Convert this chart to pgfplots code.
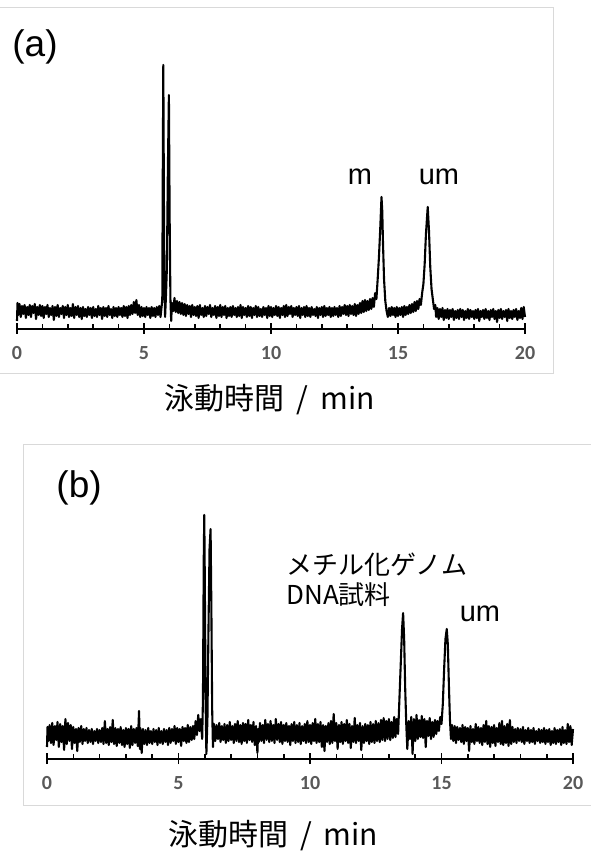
\documentclass[border=0pt]{standalone}
\usepackage{fontspec}
\setmainfont{Liberation Sans}
\newfontfamily\jp{Noto Sans CJK JP}
\newfontfamily\tickfont{Carlito}
\usepackage{pgfplots}
\pgfplotsset{compat=1.18}
\definecolor{tickgray}{HTML}{595959}
\definecolor{framegray}{HTML}{D9D9D9}

\pgfplotsset{
  chrom/.style={
    scale only axis, height=300pt,
    xmin=0, xmax=20, ymin=0, ymax=300,
    axis x line*=bottom, axis y line=none, clip=false,
    xtick={0,5,...,20}, minor x tick num=4,
    tick align=inside, major tick length=6pt, minor tick length=5pt,
    every tick/.style={black, line width=1.6pt},
    axis line style={black, line width=2pt},
    extra x ticks={0,5,...,20}, extra x tick labels={},
    extra x tick style={tick align=outside, major tick length=5pt},
    /pgf/number format/assume math mode=true,
    xticklabel style={font=\tickfont\bfseries\fontsize{20}{20}\selectfont, text=tickgray, yshift=-14pt},
    xlabel style={font=\jp\fontsize{30}{30}\selectfont, anchor=center},
  },
  trace/.style={black, line width=2.1pt, line join=round},
}
\tikzset{
  lbl/.style={font=\fontsize{29}{29}\selectfont, anchor=base},
  tag/.style={font=\fontsize{37}{37}\selectfont, anchor=base},
}

\begin{document}
\begin{tikzpicture}
\useasboundingbox (0,0) rectangle (590pt,853pt);
\draw[framegray, line width=1pt] (-5pt,479pt) rectangle (553pt,845pt);
\draw[framegray, line width=1pt] (23pt,47pt) rectangle (600pt,408pt);

% (a)
\begin{axis}[chrom, width=508pt, at={(17pt,524pt)}, anchor=south west,
  xlabel={泳動時間\hspace{0.4em}/\hspace{0.4em}min}, xlabel style={at={(axis description cs:0.498,0)}, yshift=-71pt}]
\addplot[trace] coordinates {
(0,8)(0.02,26)(0.05,14)(0.1,25)(0.15,12)(0.2,23)(0.25,15)(0.3,24)(0.35,11)(0.4,22)(0.45,14)
(0.5,24)(0.55,12)(0.6,23)(0.65,16)(0.7,25)(0.75,10)(0.8,22)(0.85,14)(0.9,24)(0.95,13)
(1.0,23)(1.05,11)(1.1,22)(1.15,15)(1.2,24)(1.25,12)(1.3,21)(1.35,14)(1.4,23)(1.45,9)
(1.5,22)(1.55,13)(1.6,24)(1.65,12)(1.7,21)(1.75,15)(1.8,23)(1.85,11)(1.9,22)(1.95,14)
(2.0,24)(2.05,12)(2.1,21)(2.15,13)(2.2,25)(2.25,11)(2.3,22)(2.35,14)(2.4,23)(2.45,12)
(2.5,21)(2.55,10)(2.6,22)(2.65,13)(2.7,20)(2.75,12)(2.8,22)(2.85,14)(2.9,21)(2.95,11)
(3.0,22)(3.05,13)(3.1,20)(3.15,12)(3.2,23)(3.25,14)(3.3,21)(3.35,10)(3.4,22)(3.45,13)
(3.5,21)(3.55,12)(3.6,23)(3.65,14)(3.7,20)(3.75,11)(3.8,22)(3.85,13)(3.9,21)(3.95,12)
(4.0,22)(4.05,14)(4.1,21)(4.15,12)(4.2,23)(4.25,13)(4.3,22)(4.35,11)(4.4,23)(4.45,14)
(4.5,24)(4.55,15)(4.6,27)(4.65,16)(4.7,29)(4.75,14)(4.8,24)(4.85,12)(4.9,22)(4.95,13)
(5.0,21)(5.05,12)(5.1,22)(5.15,14)(5.2,21)(5.25,11)(5.3,22)(5.35,13)(5.4,21)(5.45,12)
(5.5,22)(5.55,14)(5.6,23)(5.65,12)(5.7,24)(5.72,30)(5.74,160)(5.76,264)(5.78,150)(5.8,50)
(5.83,12)(5.86,30)(5.9,60)(5.94,160)(5.98,234)(6.01,110)(6.04,30)(6.07,8)(6.1,26)
(6.15,18)(6.2,31)(6.25,17)(6.3,28)(6.35,16)(6.4,27)(6.45,15)
(6.5,26)(6.55,14)(6.6,25)(6.65,13)(6.7,24)(6.75,15)(6.8,23)(6.85,12)(6.9,24)(6.95,14)
(7.0,22)(7.05,13)(7.1,23)(7.15,11)(7.2,24)(7.25,14)(7.3,21)(7.35,12)(7.4,23)(7.45,13)
(7.5,22)(7.55,15)(7.6,24)(7.65,12)(7.7,21)(7.75,14)(7.8,23)(7.85,11)(7.9,22)(7.95,13)
(8.0,24)(8.05,12)(8.1,22)(8.15,14)(8.2,23)(8.25,11)(8.3,21)(8.35,13)(8.4,22)(8.45,12)
(8.5,23)(8.55,14)(8.6,21)(8.65,12)(8.7,22)(8.75,13)(8.8,24)(8.85,11)(8.9,22)(8.95,14)
(9.0,21)(9.05,12)(9.1,23)(9.15,13)(9.2,22)(9.25,11)(9.3,21)(9.35,14)(9.4,23)(9.45,12)
(9.5,22)(9.55,13)(9.6,20)(9.65,12)(9.7,22)(9.75,14)(9.8,21)(9.85,11)(9.9,23)(9.95,13)
(10.0,22)(10.05,12)(10.1,21)(10.15,14)(10.2,23)(10.25,13)(10.3,22)(10.35,11)(10.4,21)(10.45,14)
(10.5,23)(10.55,12)(10.6,24)(10.65,13)(10.7,22)(10.75,15)(10.8,23)(10.85,12)(10.9,21)(10.95,14)
(11.0,22)(11.05,13)(11.1,23)(11.15,11)(11.2,21)(11.25,14)(11.3,22)(11.35,12)(11.4,23)(11.45,13)
(11.5,21)(11.55,12)(11.6,22)(11.65,14)(11.7,20)(11.75,13)(11.8,22)(11.85,11)(11.9,21)(11.95,14)
(12.0,22)(12.05,12)(12.1,23)(12.15,13)(12.2,21)(12.25,14)(12.3,22)(12.35,12)(12.4,21)(12.45,13)
(12.5,22)(12.55,14)(12.6,21)(12.65,12)(12.7,23)(12.75,13)(12.8,22)(12.85,15)(12.9,24)(12.95,14)
(13.0,23)(13.05,13)(13.1,24)(13.15,15)(13.2,23)(13.25,14)(13.3,25)(13.35,13)(13.4,24)(13.45,15)
(13.5,26)(13.55,16)(13.6,28)(13.65,17)(13.7,29)(13.75,18)(13.8,28)(13.85,19)(13.9,30)(13.95,20)
(14.0,31)(14.05,22)(14.1,36)(14.15,30)(14.2,50)(14.25,72)(14.3,100)(14.35,132)(14.38,118)(14.41,85)
(14.45,50)(14.5,28)(14.55,18)(14.6,12)
(14.65,21)(14.7,13)(14.75,22)(14.8,14)(14.85,21)(14.9,12)(14.95,22)
(15.0,13)(15.05,21)(15.1,14)(15.15,22)(15.2,12)(15.25,23)(15.3,14)(15.35,22)(15.4,15)(15.45,24)
(15.5,16)(15.55,25)(15.6,17)(15.65,27)(15.7,18)(15.75,28)(15.8,20)(15.85,30)(15.9,24)(15.95,36)
(16.0,45)(16.05,65)(16.1,95)(16.17,122)(16.22,98)(16.27,62)(16.32,40)(16.37,30)(16.42,20)(16.47,24)
(16.5,12)(16.55,21)(16.6,10)(16.65,20)(16.7,12)(16.75,21)(16.8,9)(16.85,19)(16.9,11)(16.95,20)
(17.0,10)(17.05,19)(17.1,12)(17.15,20)(17.2,9)(17.25,18)(17.3,11)(17.35,19)(17.4,10)(17.45,20)
(17.5,12)(17.55,19)(17.6,9)(17.65,18)(17.7,11)(17.75,20)(17.8,10)(17.85,19)(17.9,12)(17.95,18)
(18.0,10)(18.05,19)(18.1,11)(18.15,20)(18.2,8)(18.25,18)(18.3,12)(18.35,19)(18.4,10)(18.45,20)
(18.5,11)(18.55,18)(18.6,9)(18.65,19)(18.7,12)(18.75,20)(18.8,10)(18.85,18)(18.9,7)(18.95,19)
(19.0,11)(19.05,20)(19.1,10)(19.15,18)(19.2,12)(19.25,19)(19.3,8)(19.35,20)(19.4,11)(19.45,18)
(19.5,10)(19.55,19)(19.6,12)(19.65,20)(19.7,9)(19.75,18)(19.8,11)(19.85,21)(19.9,10)(19.95,22)(20.0,12)
};
\node[tag] at (axis cs:0.71,272) {(a)};
\node[lbl] at (axis cs:13.5,144) {m};
\node[lbl] at (axis cs:16.61,144) {um};
\end{axis}

% (b)
\begin{axis}[chrom, width=526pt, at={(47pt,94pt)}, anchor=south west,
  xlabel={泳動時間\hspace{0.4em}/\hspace{0.4em}min}, xlabel style={at={(axis description cs:0.43,0)}, yshift=-77pt}]
\addplot[trace] coordinates {
(0,12)(0.02,32)(0.05,18)(0.1,34)(0.15,16)(0.2,36)(0.25,14)(0.3,33)(0.35,19)(0.4,37)(0.45,12)
(0.5,35)(0.55,17)(0.6,33)(0.65,9)(0.7,40)(0.75,15)(0.8,36)(0.85,18)(0.9,34)(0.95,10)
(1.0,32)(1.05,16)(1.1,30)(1.15,8)(1.2,31)(1.25,17)(1.3,33)(1.35,15)(1.4,30)(1.45,18)
(1.5,31)(1.55,16)(1.6,29)(1.65,17)(1.7,30)(1.75,15)(1.8,28)(1.85,18)(1.9,30)(1.95,16)
(2.0,29)(2.05,17)(2.1,31)(2.15,15)(2.2,38)(2.25,16)(2.3,30)(2.35,14)(2.4,32)(2.45,17)
(2.5,39)(2.55,15)(2.6,31)(2.65,13)(2.7,30)(2.75,16)(2.8,32)(2.85,14)(2.9,29)(2.95,12)
(3.0,31)(3.05,15)(3.1,30)(3.15,11)(3.2,33)(3.25,14)(3.3,30)(3.35,16)(3.4,31)(3.45,13)
(3.5,48)(3.53,10)(3.55,31)(3.6,6)(3.65,30)(3.7,15)(3.75,29)(3.8,14)(3.85,31)(3.9,16)(3.95,28)
(4.0,15)(4.05,30)(4.1,17)(4.15,29)(4.2,14)(4.25,31)(4.3,16)(4.35,28)(4.4,15)(4.45,30)
(4.5,17)(4.55,29)(4.6,14)(4.65,31)(4.7,16)(4.75,30)(4.8,18)(4.85,33)(4.9,15)(4.95,31)
(5.0,17)(5.05,30)(5.1,13)(5.15,32)(5.2,18)(5.25,31)(5.3,16)(5.35,34)(5.4,17)(5.45,32)
(5.5,19)(5.55,33)(5.6,20)(5.65,38)(5.7,24)(5.75,44)(5.8,28)(5.85,40)(5.9,20)(5.93,60)
(5.96,200)(5.98,244)(6.0,180)(6.03,60)(6.06,5)(6.1,40)(6.14,130)(6.18,210)(6.22,230)(6.25,150)
(6.28,50)(6.31,12)(6.35,35)
(6.4,18)(6.45,34)(6.5,20)(6.55,36)(6.6,17)(6.65,33)(6.7,19)(6.75,35)(6.8,16)(6.85,34)(6.9,18)(6.95,37)
(7.0,19)(7.05,33)(7.1,16)(7.15,35)(7.2,18)(7.25,38)(7.3,17)(7.35,34)(7.4,15)(7.45,36)
(7.5,18)(7.55,35)(7.6,16)(7.65,39)(7.7,19)(7.75,34)(7.8,17)(7.85,37)(7.9,14)(7.95,33)
(8.0,6)(8.03,30)(8.05,17)(8.1,36)(8.15,18)(8.2,34)(8.25,16)(8.3,39)(8.35,19)(8.4,35)(8.45,17)
(8.5,38)(8.55,18)(8.6,34)(8.65,16)(8.7,40)(8.75,19)(8.8,35)(8.85,17)(8.9,37)(8.95,15)
(9.0,34)(9.05,18)(9.1,36)(9.15,17)(9.2,33)(9.25,14)(9.3,35)(9.35,18)(9.4,37)(9.45,16)
(9.5,34)(9.55,17)(9.6,36)(9.65,15)(9.7,33)(9.75,18)(9.8,35)(9.85,16)(9.9,38)(9.95,17)
(10.0,34)(10.05,15)(10.1,36)(10.15,18)(10.2,40)(10.25,16)(10.3,35)(10.35,17)(10.4,37)(10.45,12)
(10.5,34)(10.55,8)(10.6,33)(10.65,17)(10.7,36)(10.75,15)(10.8,38)(10.85,16)(10.9,45)(10.95,18)
(11.0,36)(11.05,10)(11.1,34)(11.15,17)(11.2,37)(11.25,15)(11.3,35)(11.35,18)(11.4,39)(11.45,16)
(11.5,35)(11.55,11)(11.6,33)(11.65,17)(11.7,41)(11.75,16)(11.8,34)(11.85,18)(11.9,36)(11.95,9)
(12.0,33)(12.05,16)(12.1,35)(12.15,18)(12.2,34)(12.25,15)(12.3,37)(12.35,17)(12.4,35)(12.45,16)
(12.5,38)(12.55,18)(12.6,36)(12.65,17)(12.7,39)(12.75,19)(12.8,41)(12.85,18)(12.9,38)(12.95,20)
(13.0,40)(13.05,19)(13.1,37)(13.15,21)(13.2,42)(13.25,22)(13.3,40)(13.35,25)(13.4,60)(13.45,95)
(13.5,130)(13.54,146)(13.58,120)(13.62,70)(13.66,35)(13.7,10)(13.75,38)
(13.8,20)(13.85,42)(13.9,5)(13.95,40)(14.0,18)(14.05,44)(14.1,20)(14.15,39)(14.2,22)(14.25,43)
(14.3,21)(14.35,40)(14.4,12)(14.45,38)(14.5,23)(14.55,41)(14.6,20)(14.65,37)(14.7,22)(14.75,39)
(14.8,25)(14.85,38)(14.9,28)(14.95,42)(15.0,35)(15.05,55)(15.1,90)(15.15,120)(15.2,130)(15.24,115)
(15.28,75)(15.32,40)(15.36,20)(15.4,34)
(15.45,18)(15.5,33)(15.55,16)(15.6,32)(15.65,19)(15.7,31)(15.75,17)(15.8,34)(15.85,15)(15.9,32)(15.95,18)
(16.0,31)(16.05,8)(16.1,33)(16.15,17)(16.2,30)(16.25,15)(16.3,35)(16.35,18)(16.4,32)(16.45,16)
(16.5,31)(16.55,14)(16.6,34)(16.65,17)(16.7,38)(16.75,15)(16.8,33)(16.85,12)(16.9,32)(16.95,16)
(17.0,34)(17.05,13)(17.1,31)(17.15,17)(17.2,36)(17.25,15)(17.3,38)(17.35,14)(17.4,33)(17.45,16)
(17.5,35)(17.55,13)(17.6,39)(17.65,15)(17.7,32)(17.75,17)(17.8,30)(17.85,16)(17.9,31)(17.95,18)
(18.0,30)(18.05,17)(18.1,32)(18.15,15)(18.2,29)(18.25,18)(18.3,31)(18.35,16)(18.4,29)(18.45,17)
(18.5,31)(18.55,15)(18.6,28)(18.65,18)(18.7,30)(18.75,16)(18.8,29)(18.85,17)(18.9,31)(18.95,15)
(19.0,29)(19.05,17)(19.1,30)(19.15,14)(19.2,28)(19.25,16)(19.3,31)(19.35,15)(19.4,29)(19.45,17)
(19.5,30)(19.55,14)(19.6,32)(19.65,16)(19.7,29)(19.75,15)(19.8,35)(19.85,17)(19.9,33)(19.95,14)(20.0,30)
};
\node[tag] at (axis cs:1.22,261) {(b)};
\node[anchor=base west, font=\jp\fontsize{26}{26}\selectfont] at (axis cs:8.97,184) {メチル化ゲノム};
\node[anchor=base west, font=\jp\fontsize{26}{26}\selectfont] at (axis cs:8.97,154) {DNA試料};
\node[lbl] at (axis cs:16.46,137) {um};
\end{axis}
\end{tikzpicture}
\end{document}
